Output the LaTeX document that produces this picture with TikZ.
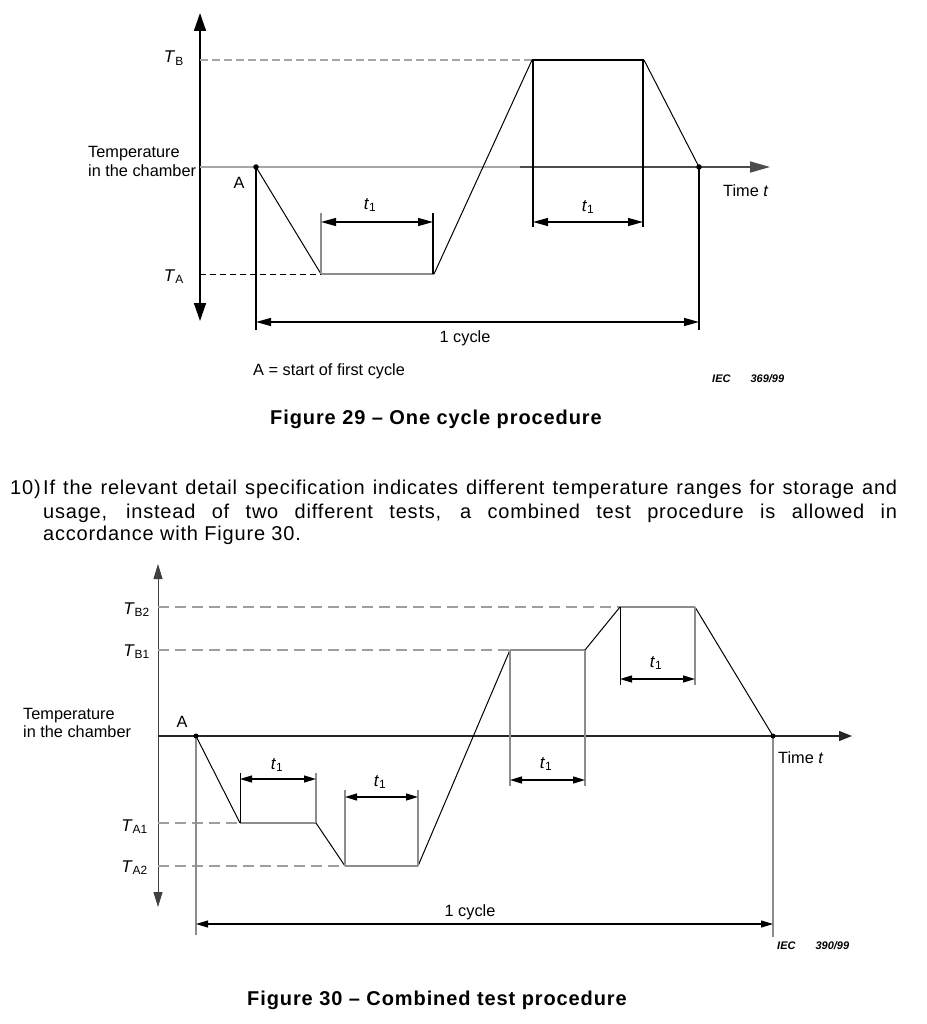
\documentclass[tikz,border=0pt]{standalone}
\usepackage{fontspec}
\setmainfont{Liberation Sans}
\newfontfamily\parfont[LetterSpace=4]{Liberation Sans}
\newfontfamily\capfont[LetterSpace=4.5]{Liberation Sans}
\usetikzlibrary{arrows.meta}
\tikzset{
  lbl/.style={inner sep=0pt, font=\fontsize{16.3}{19}\selectfont},
  tlbl/.style={inner sep=0pt, font=\fontsize{17}{19}\selectfont},
  iec/.style={inner sep=0pt, font=\fontsize{11}{13}\selectfont\bfseries\itshape},
  captext/.style={inner sep=0pt, font=\fontsize{20}{24}\selectfont\capfont\bfseries},
  para/.style={inner sep=0pt, font=\fontsize{20}{23}\selectfont\parfont},
  dimA/.style={black, line width=1.3pt, {Triangle[length=15pt,width=8pt]}-{Triangle[length=15pt,width=8pt]}},
  dimB/.style={black, line width=1.3pt, {Triangle[length=12pt,width=7pt]}-{Triangle[length=12pt,width=7pt]}},
  slope/.style={black, line width=1pt},
  plat/.style={black!45, line width=1.8pt},
  vblack/.style={black, line width=1.2pt},
  vgray/.style={black!45, line width=1.6pt},
  dashgray/.style={black!35, line width=1.6pt, dash pattern=on 8pt off 4pt},
  dashgrayB/.style={black!38, line width=2.2pt, dash pattern=on 11pt off 6pt},
  dashblack/.style={black, line width=1pt, dash pattern=on 6pt off 4pt},
  dot/.style={circle, fill=black, inner sep=0pt, minimum size=5.5pt},
}
\begin{document}
\begin{tikzpicture}[x=1pt,y=-1pt]
\useasboundingbox[fill=white] (0,0) rectangle (926,1024);

% ================= Figure 29 =================
\coordinate (yT) at (200,13);
\coordinate (yB) at (200,321);
\coordinate (x0) at (200,167);
\coordinate (xm) at (520,167);
\coordinate (xe) at (770,167);
\coordinate (tb0) at (200,60);
\coordinate (ta0) at (200,274);
\coordinate (A) at (256,167);
\coordinate (P1) at (321,274);
\coordinate (P2) at (434,274);
\coordinate (P3) at (532,60);
\coordinate (P4) at (644,60);
\coordinate (E) at (699,167);
\coordinate (Ad) at (256,330);
\coordinate (Ed) at (699,330);
\coordinate (v1t) at (321,213);
\coordinate (v2t) at (433,213);
\coordinate (v2b) at (433,274);
\coordinate (v3b) at (533,227);
\coordinate (v3t) at (533,60);
\coordinate (v4b) at (643,227);
\coordinate (v4t) at (643,60);
\coordinate (d1a) at (321,222);
\coordinate (d1b) at (433,222);
\coordinate (d2a) at (533,222);
\coordinate (d2b) at (643,222);
\coordinate (c1a) at (256,322);
\coordinate (c1b) at (699,322);

\draw[black, line width=1.5pt, {Triangle[length=18pt,width=12pt]}-{Triangle[length=18pt,width=12pt]}] (yB) -- (yT);
\draw[black!35, line width=2pt] (x0) -- (xm);
\draw[black!70, line width=1.6pt, -{Triangle[length=20pt,width=11pt]}] (xm) -- (xe);
\draw[dashgray] (tb0) -- (P3);
\draw[dashblack] (ta0) -- (P1);

\draw[slope] (A) -- (P1);
\draw[plat] (P1) -- (P2);
\draw[slope] (P2) -- (P3);
\draw[slope, line width=1.2pt] (P3) -- (P4);
\draw[slope] (P4) -- (E);

\draw[vblack] (A) -- (Ad);
\draw[vblack] (E) -- (Ed);
\draw[vgray] (P1) -- (v1t);
\draw[vblack] (v2b) -- (v2t);
\draw[vblack] (v3t) -- (v3b);
\draw[vblack] (v4t) -- (v4b);
\draw[dimA] (d1a) -- (d1b);
\draw[dimA] (d2a) -- (d2b);
\draw[dimA] (c1a) -- (c1b);
\node[dot] (Adot) at (A) {};
\node[dot] (Edot) at (E) {};

\node[tlbl, anchor=base east] (TB) at (184,63) {\textit{T}\textsubscript{B}};
\node[tlbl, anchor=base east] (TA) at (184,281) {\textit{T}\textsubscript{A}};
\node[lbl, anchor=base west] (temp1) at (88,158) {Temperature};
\node[lbl, anchor=base west] (temp2) at (88,177) {in the chamber};
\node[lbl] (Alab) at (239,183) {A};
\node[tlbl] (t1a) at (370,205) {\textit{t}\textsubscript{1}};
\node[tlbl] (t1b) at (588,207) {\textit{t}\textsubscript{1}};
\node[lbl, anchor=base west] (time1) at (723,197) {Time \textit{t}};
\node[lbl] (cyc1) at (465,338) {1 cycle};
\node[lbl, anchor=base west] (start) at (253,375) {A = start of first cycle};
\node[iec, anchor=base west] (iec1) at (712,382) {IEC\hspace{20pt}369/99};
\node[captext, anchor=base] (cap29) at (436,424) {Figure 29 \textendash{} One cycle procedure};

% ================= Paragraph =================
\node[para, anchor=base west] (p0) at (10,494) {10)};
\node[para, anchor=base west] (p1) at (43,494) {\makebox[854pt][s]{If the relevant detail specification indicates different temperature ranges for storage and}};
\node[para, anchor=base west] (p2) at (43,518) {\makebox[854pt][s]{usage, instead of two different tests, a combined test procedure is allowed in}};
\node[para, anchor=base west] (p3) at (43,540) {accordance with Figure 30.};

% ================= Figure 30 =================
\coordinate (zT) at (158,564);
\coordinate (zB) at (158,907);
\coordinate (z0) at (158,736);
\coordinate (ze) at (852,736);
\coordinate (b2) at (158,607);
\coordinate (b1) at (158,650);
\coordinate (a1) at (158,823);
\coordinate (a2) at (158,866);
\coordinate (A2) at (196,736);
\coordinate (Q1) at (240,823);
\coordinate (Q2) at (316,823);
\coordinate (Q3) at (345,866);
\coordinate (Q4) at (418,866);
\coordinate (Q5) at (510,650);
\coordinate (Q6) at (585,650);
\coordinate (Q7) at (620,607);
\coordinate (Q8) at (695,607);
\coordinate (E2) at (773,736);
\coordinate (A2d) at (196,935);
\coordinate (E2d) at (773,937);
\coordinate (w1) at (240,773);
\coordinate (w2) at (316,773);
\coordinate (w3) at (345,790);
\coordinate (w4) at (418,790);
\coordinate (w5) at (510,786);
\coordinate (w6) at (585,786);
\coordinate (w7) at (620,685);
\coordinate (w8) at (695,685);
\coordinate (e1a) at (240,779);
\coordinate (e1b) at (316,779);
\coordinate (e2a) at (345,797);
\coordinate (e2b) at (418,797);
\coordinate (e3a) at (510,780);
\coordinate (e3b) at (585,780);
\coordinate (e4a) at (620,679);
\coordinate (e4b) at (695,679);
\coordinate (c2a) at (196,924);
\coordinate (c2b) at (773,924);

\draw[black!75, line width=1pt, {Triangle[length=15pt,width=9pt]}-{Triangle[length=15pt,width=9pt]}] (zB) -- (zT);
\draw[black!85, line width=1.1pt, -{Triangle[length=13pt,width=10pt]}] (z0) -- (ze);
\draw[dashgrayB] (b2) -- (Q7);
\draw[dashgrayB] (b1) -- (Q5);
\draw[dashgrayB] (a1) -- (Q1);
\draw[dashgrayB] (a2) -- (Q3);

\draw[slope] (A2) -- (Q1);
\draw[plat] (Q1) -- (Q2);
\draw[slope] (Q2) -- (Q3);
\draw[plat] (Q3) -- (Q4);
\draw[slope] (Q4) -- (Q5);
\draw[plat] (Q5) -- (Q6);
\draw[slope] (Q6) -- (Q7);
\draw[plat] (Q7) -- (Q8);
\draw[slope] (Q8) -- (E2);

\draw[vgray, line width=1.3pt] (A2) -- (A2d);
\draw[vgray, line width=1.3pt] (E2) -- (E2d);
\draw[vblack, line width=1pt] (Q1) -- (w1);
\draw[vgray] (Q2) -- (w2);
\draw[vgray] (Q3) -- (w3);
\draw[vgray] (Q4) -- (w4);
\draw[vgray] (Q5) -- (w5);
\draw[vgray] (Q6) -- (w6);
\draw[vblack, line width=1pt] (Q7) -- (w7);
\draw[vgray] (Q8) -- (w8);
\draw[dimB] (e1a) -- (e1b);
\draw[dimB] (e2a) -- (e2b);
\draw[dimB] (e3a) -- (e3b);
\draw[dimB] (e4a) -- (e4b);
\draw[dimB, line width=1.1pt] (c2a) -- (c2b);
\node[dot, minimum size=5pt] (A2dot) at (A2) {};
\node[dot, minimum size=5pt] (E2dot) at (E2) {};

\node[tlbl, anchor=base east] (TB2) at (150,614) {\textit{T}\textsubscript{B2}};
\node[tlbl, anchor=base east] (TB1) at (150,656) {\textit{T}\textsubscript{B1}};
\node[tlbl, anchor=base east] (TA1) at (148,831) {\textit{T}\textsubscript{A1}};
\node[tlbl, anchor=base east] (TA2) at (148,872) {\textit{T}\textsubscript{A2}};
\node[lbl, anchor=base west] (temp3) at (23,719) {Temperature};
\node[lbl, anchor=base west] (temp4) at (23,737) {in the chamber};
\node[lbl] (Alab2) at (182,722) {A};
\node[tlbl] (t1c) at (277,765) {\textit{t}\textsubscript{1}};
\node[tlbl] (t1d) at (380,782) {\textit{t}\textsubscript{1}};
\node[tlbl] (t1e) at (546,764) {\textit{t}\textsubscript{1}};
\node[tlbl] (t1f) at (656,663) {\textit{t}\textsubscript{1}};
\node[lbl, anchor=base west] (time2) at (778,763) {Time \textit{t}};
\node[lbl] (cyc2) at (470,912) {1 cycle};
\node[iec, anchor=base west] (iec2) at (777,949) {IEC\hspace{20pt}390/99};
\node[captext, anchor=base] (cap30) at (437,1005) {Figure 30 \textendash{} Combined test procedure};
\end{tikzpicture}
\end{document}
